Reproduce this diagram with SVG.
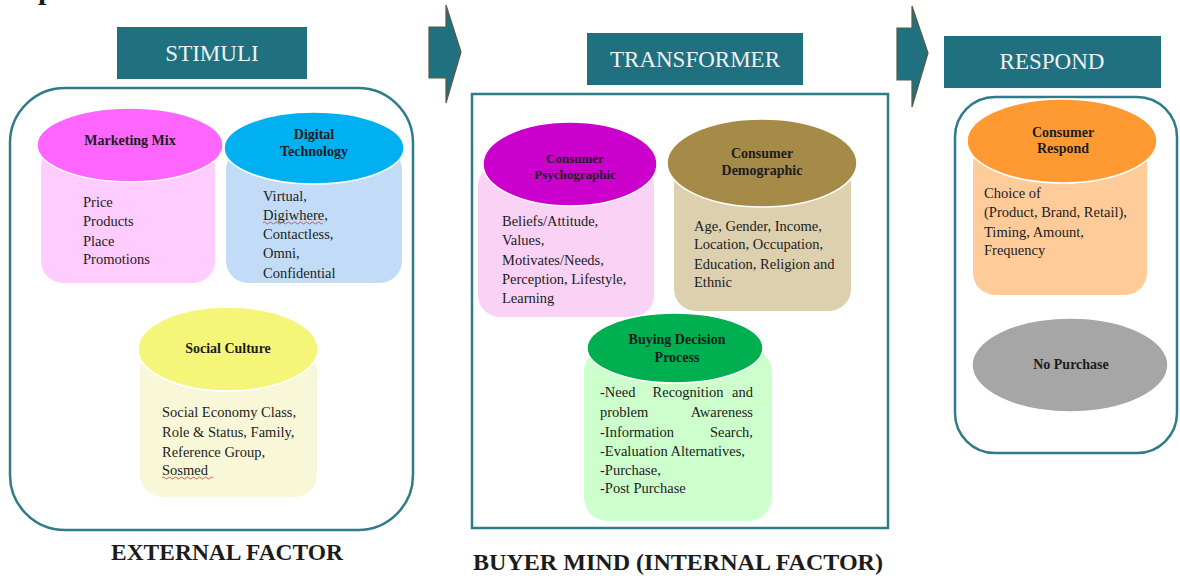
<svg xmlns="http://www.w3.org/2000/svg" width="1180" height="579" viewBox="0 0 1180 579">
<style>
text{font-family:"Liberation Serif","Times New Roman",serif;fill:#1c1c1c}
.hdr{fill:#1f7180}
.hdrt{font-size:23px;fill:#f2f2f2;text-anchor:middle}
.cont{fill:none;stroke:#2e7c88;stroke-width:2.5}
.arrow{fill:#1f7180;stroke:#5b5a3f;stroke-width:1.2}
.cap{stroke:#ffffff;stroke-width:1.5}
.ht{font-size:14px;font-weight:bold;text-anchor:middle}
.bt{font-size:14.5px}
.lbl{font-size:23px;font-weight:bold;text-anchor:middle}
.wavy{fill:none;stroke:#e0302a;stroke-width:0.8}
</style>
<rect width="1180" height="579" fill="#ffffff"/>
<text x="-8" y="-1.5" style="font-size:30px;font-weight:bold" fill="#000">Propose Consumer Behavior Model</text>

<g id="connectors">
<path class="arrow" d="M429,27 L446,27 L446,5 L461,52 L446,103 L446,78 L429,78 Z"/>
<path class="arrow" d="M897,28 L912,28 L912,6 L928,53 L912,107 L912,80 L897,80 Z"/>
</g>

<g id="stimuli-header">
<rect class="hdr" x="117" y="27" width="190" height="52"/>
<text class="hdrt" x="212" y="61">STIMULI</text>
</g>
<g id="transformer-header">
<rect class="hdr" x="587" y="33" width="216" height="52"/>
<text class="hdrt" x="695" y="67">TRANSFORMER</text>
</g>
<g id="respond-header">
<rect class="hdr" x="944" y="36" width="217" height="52"/>
<text class="hdrt" x="1052" y="69">RESPOND</text>
</g>

<g id="external-factor">
<rect class="cont" x="10" y="88" width="403" height="442" rx="55"/>
<text class="lbl" x="227" y="560" textLength="232" lengthAdjust="spacingAndGlyphs">EXTERNAL FACTOR</text>
</g>

<g id="marketing-mix">
<rect x="41" y="145" width="174" height="138" rx="22" fill="#ffccff"/>
<ellipse class="cap" cx="130" cy="145" rx="93" ry="37" fill="#ff66ff"/>
<text class="ht" x="130" y="145">Marketing Mix</text>
<text class="bt" x="83" y="207">Price</text>
<text class="bt" x="83" y="226">Products</text>
<text class="bt" x="83" y="246">Place</text>
<text class="bt" x="83" y="264">Promotions</text>
</g>

<g id="digital-technology">
<rect x="226" y="148" width="176" height="135" rx="22" fill="#c2dcf7"/>
<ellipse class="cap" cx="314" cy="148" rx="90" ry="36" fill="#00b0f0"/>
<text class="ht" x="314" y="139">Digital</text>
<text class="ht" x="314" y="156">Technology</text>
<text class="bt" x="263" y="201">Virtual,</text>
<text class="bt" x="263" y="220">Digiwhere,</text>
<path class="wavy" d="M263,223 q1.5,-2 3,0 t3,0 t3,0 t3,0 t3,0 t3,0 t3,0 t3,0 t3,0 t3,0 t3,0 t3,0 t3,0 t3,0 t3,0 t3,0 t3,0 t3,0 t3,0 t3,0"/>
<text class="bt" x="263" y="239">Contactless,</text>
<text class="bt" x="263" y="258">Omni,</text>
<text class="bt" x="263" y="278">Confidential</text>
</g>

<g id="social-culture">
<rect x="140" y="349" width="177" height="148" rx="22" fill="#f8f8d8"/>
<ellipse class="cap" cx="228" cy="349" rx="90" ry="42" fill="#f5f57a"/>
<text class="ht" x="228" y="353">Social Culture</text>
<text class="bt" x="162" y="417">Social Economy Class,</text>
<text class="bt" x="162" y="437">Role &amp; Status, Family,</text>
<text class="bt" x="162" y="457">Reference Group,</text>
<text class="bt" x="162" y="475">Sosmed</text>
<path class="wavy" d="M162,478 q1.5,-2 3,0 t3,0 t3,0 t3,0 t3,0 t3,0 t3,0 t3,0 t3,0 t3,0 t3,0 t3,0 t3,0 t3,0 t3,0 t3,0 t3,0"/>
</g>

<g id="internal-factor">
<rect class="cont" x="472" y="94" width="416" height="434"/>
<text class="lbl" x="678" y="570" textLength="410" lengthAdjust="spacingAndGlyphs">BUYER MIND (INTERNAL FACTOR)</text>
</g>

<g id="consumer-psychographic">
<rect x="478" y="164" width="176" height="153" rx="22" fill="#f9d2f5"/>
<ellipse class="cap" cx="570" cy="164" rx="87" ry="42" fill="#cc00cc"/>
<text class="ht" x="575" y="163" style="font-size:13px">Consumer</text>
<text class="ht" x="575" y="179" style="font-size:13px">Psychographic</text>
<text class="bt" x="502" y="226">Beliefs/Attitude,</text>
<text class="bt" x="502" y="245">Values,</text>
<text class="bt" x="502" y="265">Motivates/Needs,</text>
<text class="bt" x="502" y="284">Perception, Lifestyle,</text>
<text class="bt" x="502" y="303">Learning</text>
</g>

<g id="consumer-demographic">
<rect x="674" y="163" width="177" height="148" rx="22" fill="#ddd0ae"/>
<ellipse class="cap" cx="762" cy="163" rx="95" ry="44" fill="#a58a48"/>
<text class="ht" x="762" y="158">Consumer</text>
<text class="ht" x="762" y="175">Demographic</text>
<text class="bt" x="694" y="231">Age, Gender, Income,</text>
<text class="bt" x="694" y="249">Location, Occupation,</text>
<text class="bt" x="694" y="269">Education, Religion and</text>
<text class="bt" x="694" y="287">Ethnic</text>
</g>

<g id="buying-decision-process">
<rect x="584" y="348" width="188" height="173" rx="24" fill="#ccffcc"/>
<ellipse class="cap" cx="675" cy="348" rx="88" ry="35" fill="#00b050"/>
<text class="ht" x="677" y="344">Buying Decision</text>
<text class="ht" x="677" y="362">Process</text>
<text class="bt" y="397"><tspan x="600">-Need</tspan><tspan x="688" text-anchor="middle">Recognition</tspan><tspan x="753" text-anchor="end">and</tspan></text>
<text class="bt" y="417"><tspan x="600">problem</tspan><tspan x="753" text-anchor="end">Awareness</tspan></text>
<text class="bt" y="437"><tspan x="600">-Information</tspan><tspan x="753" text-anchor="end">Search,</tspan></text>
<text class="bt" x="600" y="456">-Evaluation Alternatives,</text>
<text class="bt" x="600" y="475">-Purchase,</text>
<text class="bt" x="600" y="493">-Post Purchase</text>
</g>

<g id="respond">
<rect class="cont" x="955" y="97" width="222" height="356" rx="40"/>
</g>

<g id="consumer-respond">
<rect x="973" y="141" width="174" height="154" rx="22" fill="#ffcc99"/>
<ellipse class="cap" cx="1062" cy="141" rx="95" ry="42" fill="#ff9a33"/>
<text class="ht" x="1063" y="137">Consumer</text>
<text class="ht" x="1063" y="153">Respond</text>
<text class="bt" x="984" y="198">Choice of</text>
<text class="bt" x="984" y="217">(Product, Brand, Retail),</text>
<text class="bt" x="984" y="237">Timing, Amount,</text>
<text class="bt" x="984" y="255">Frequency</text>
</g>

<g id="no-purchase">
<ellipse cx="1070" cy="365" rx="98" ry="47" fill="#a6a6a6" stroke="#ffffff" stroke-width="1.5"/>
<text class="ht" x="1071" y="369">No Purchase</text>
</g>
</svg>
